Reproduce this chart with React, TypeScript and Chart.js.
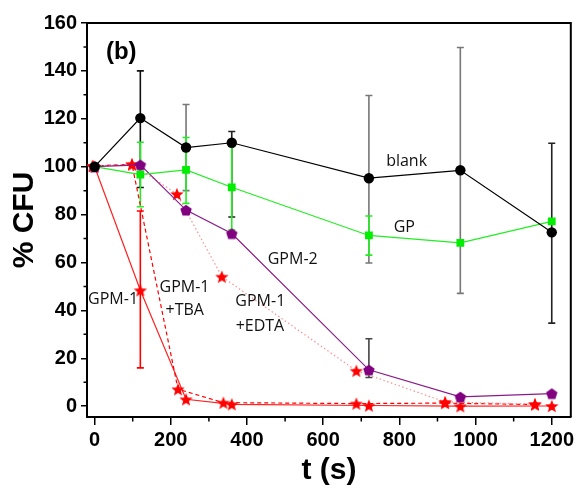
import React, { useEffect, useRef } from 'react';
import { Chart, registerables } from 'chart.js';

Chart.register(...registerables);

// ---- data ----
const tBlank = [0, 120, 240, 360, 720, 960, 1200];
const blankVals = [100, 120.3, 108, 110, 95.2, 98.5, 72.6];
const blankHi = [null, 140, 126, 114.7, 129.7, 149.8, 109.8];
const blankLo = [null, 91.3, 90, 79, 59.8, 47.1, 34.7];
const blankErrColor = ['#111', '#111', '#777', '#222', '#777', '#777', '#222'];

const tGP = [0, 120, 240, 360, 720, 960, 1200];
const gpVals = [100, 96.7, 98.7, 91.4, 71.3, 68.2, 77.2];
const gpHi = [null, 110.2, 112.2, 108.5, 79.4, null, null];
const gpLo = [null, 83.3, 84.7, 73.6, 63.1, null, null];

const tGPM2 = [0, 120, 240, 360, 720, 960, 1200];
const gpm2Vals = [100, 100.8, 81.9, 72.1, 15.2, 3.9, 5.3];
const gpm2Hi = [null, null, null, null, 28.2, null, null];
const gpm2Lo = [null, null, null, null, 12, null, null];

const tGPM1 = [0, 120, 240, 360, 720, 960, 1200];
const gpm1Vals = [100, 48.4, 2.9, 0.8, 0.3, 0, 0.1];
const gpm1Hi = [null, 81.5, null, null, null, null, null];
const gpm1Lo = [null, 16, null, null, null, null, null];

const tTBA = [-5, 98, 219, 338, 687, 920, 1156];
const tbaVals = [100.3, 101, 7.1, 1.5, 1.1, 1.3, 0.7];

const tEDTA = [-5, 98, 216, 334, 687, 920, 1156];
const edtaVals = [100.3, 101, 88.6, 54.1, 14.8, 1.8, 0.9];

const xTicks = [0, 200, 400, 600, 800, 1000, 1200];
const yTicks = [0, 20, 40, 60, 80, 100, 120, 140, 160];
const xMinor = [100, 300, 500, 700, 900, 1100];
const yMinor = [10, 30, 50, 70, 90, 110, 130, 150];

// text labels: [text, x, y(baseline)] in data units
const seriesLabels: [string, number, number][] = [
  ['blank', 819, 100.3],
  ['GP', 813, 72.7],
  ['GPM-2', 520, 59.4],
  ['GPM-1', 48.4, 42.6],
  ['GPM-1', 236, 47.8],
  ['+TBA', 236.5, 38.0],
  ['GPM-1', 435, 41.8],
  ['+EDTA', 434, 31.4],
];
const panelLabel = '(b)';

const pts = (xs: number[], ys: number[]) => xs.map((x, i) => ({ x, y: ys[i] }));

function makeStar(color: string, outer: number, inner: number) {
  const s = Math.ceil(outer * 2 + 2);
  const c = document.createElement('canvas');
  c.width = s; c.height = s;
  const ctx = c.getContext('2d')!;
  ctx.beginPath();
  for (let i = 0; i < 10; i++) {
    const r = i % 2 ? inner : outer;
    const a = -Math.PI / 2 + (i * Math.PI) / 5;
    ctx.lineTo(s / 2 + r * Math.cos(a), s / 2 + 0.7 + r * Math.sin(a));
  }
  ctx.closePath();
  ctx.fillStyle = color;
  ctx.fill();
  return c;
}

function makePentagon(color: string, r: number) {
  const s = Math.ceil(r * 2 + 2);
  const c = document.createElement('canvas');
  c.width = s; c.height = s;
  const ctx = c.getContext('2d')!;
  ctx.beginPath();
  for (let i = 0; i < 5; i++) {
    const a = -Math.PI / 2 + (i * 2 * Math.PI) / 5;
    ctx.lineTo(s / 2 + r * Math.cos(a), s / 2 + 0.7 + r * Math.sin(a));
  }
  ctx.closePath();
  ctx.fillStyle = color;
  ctx.fill();
  return c;
}

const errorBarPlugin = {
  id: 'errorBars',
  beforeDatasetsDraw(chart: any) {
    const ctx = chart.ctx;
    const xs = chart.scales.x, ys = chart.scales.y;
    chart.data.datasets.forEach((ds: any) => {
      if (!ds.errHi) return;
      ds.data.forEach((p: any, i: number) => {
        const hi = ds.errHi[i], lo = ds.errLo[i];
        if (hi == null || lo == null) return;
        const x = xs.getPixelForValue(p.x);
        const yh = ys.getPixelForValue(hi), yl = ys.getPixelForValue(lo);
        ctx.save();
        ctx.strokeStyle = Array.isArray(ds.errColor) ? ds.errColor[i] : ds.errColor;
        ctx.lineWidth = 1.6;
        ctx.beginPath();
        ctx.moveTo(x, yh); ctx.lineTo(x, yl);
        ctx.moveTo(x - 3.5, yh); ctx.lineTo(x + 3.5, yh);
        ctx.moveTo(x - 3.5, yl); ctx.lineTo(x + 3.5, yl);
        ctx.stroke();
        ctx.restore();
      });
    });
  },
};

const decorPlugin = {
  id: 'decor',
  afterDatasetsDraw(chart: any) {
    const ctx = chart.ctx;
    const xs = chart.scales.x, ys = chart.scales.y;
    const a = chart.chartArea;
    ctx.save();
    // frame top/right
    ctx.strokeStyle = '#000';
    ctx.lineWidth = 2;
    ctx.beginPath();
    ctx.moveTo(a.left, a.top); ctx.lineTo(a.right, a.top); ctx.lineTo(a.right, a.bottom);
    ctx.stroke();
    // minor ticks
    ctx.lineWidth = 1.5;
    ctx.beginPath();
    yMinor.forEach((v) => {
      const y = ys.getPixelForValue(v);
      ctx.moveTo(a.left, y); ctx.lineTo(a.left - 3.5, y);
    });
    xMinor.forEach((v) => {
      const x = xs.getPixelForValue(v);
      ctx.moveTo(x, a.bottom); ctx.lineTo(x, a.bottom + 4.5);
    });
    ctx.stroke();
    // series labels
    ctx.fillStyle = '#111';
    ctx.font = '16px "Open Sans", "Noto Sans", sans-serif';
    ctx.textAlign = 'center';
    ctx.textBaseline = 'alphabetic';
    seriesLabels.forEach(([t, x, y]) => {
      ctx.fillText(t, xs.getPixelForValue(x), ys.getPixelForValue(y));
    });
    ctx.font = 'bold 24px "Liberation Sans", Arial, sans-serif';
    ctx.fillStyle = '#000';
    ctx.fillText(panelLabel, xs.getPixelForValue(70), ys.getPixelForValue(145));
    ctx.restore();
  },
};

export default function App() {
  const ref = useRef<HTMLCanvasElement>(null);
  useEffect(() => {
    if (!ref.current) return;
    const redStar = makeStar('#ff0000', 7, 3);
    const pent = makePentagon('#800080', 6);
    const tickFont = { family: '"Liberation Sans", Arial, sans-serif', size: 20, weight: 'bold' as const };
    const titleFont = { family: '"Liberation Sans", Arial, sans-serif', size: 30, weight: 'bold' as const };
    const chart = new Chart(ref.current, {
      type: 'line',
      data: {
        datasets: [
          {
            label: 'blank', data: pts(tBlank, blankVals),
            borderColor: '#000', borderWidth: 1.2, backgroundColor: '#000',
            pointStyle: 'circle', pointRadius: 5.2, pointBackgroundColor: '#000', pointBorderWidth: 0,
            errHi: blankHi, errLo: blankLo, errColor: blankErrColor,
          } as any,
          {
            label: 'GP', data: pts(tGP, gpVals),
            borderColor: '#22ee22', borderWidth: 1.2,
            pointStyle: 'rect', pointRadius: 5.5, pointBackgroundColor: '#00ee00', pointBorderWidth: 0,
            errHi: gpHi, errLo: gpLo, errColor: '#22ee22',
          } as any,
          {
            label: 'GPM-2', data: pts(tGPM2, gpm2Vals),
            borderColor: '#8a1a8a', borderWidth: 1.2,
            pointStyle: pent, pointRadius: 6,
            errHi: gpm2Hi, errLo: gpm2Lo, errColor: '#444',
          } as any,
          {
            label: 'GPM-1+EDTA', data: pts(tEDTA, edtaVals),
            borderColor: '#ff9090', borderWidth: 1.2, borderDash: [1.5, 2.5],
            pointStyle: redStar, pointRadius: 7,
          } as any,
          {
            label: 'GPM-1+TBA', data: pts(tTBA, tbaVals),
            borderColor: '#ff0000', borderWidth: 1.2, borderDash: [4, 3],
            pointStyle: redStar, pointRadius: 7,
          } as any,
          {
            label: 'GPM-1', data: pts(tGPM1, gpm1Vals),
            borderColor: '#ff2020', borderWidth: 1.2,
            pointStyle: redStar, pointRadius: 7,
            errHi: gpm1Hi, errLo: gpm1Lo, errColor: '#ff0000',
          } as any,
        ],
      },
      options: {
        responsive: false,
        animation: false,
        devicePixelRatio: 1,
        layout: { padding: { top: 23, right: 6, left: 0, bottom: 0 } },
        plugins: { legend: { display: false }, tooltip: { enabled: false } },
        elements: { line: { tension: 0 } },
        scales: {
          x: {
            type: 'linear', min: -20, max: 1250,
            afterBuildTicks: (s: any) => { s.ticks = xTicks.map((v) => ({ value: v })); },
            afterFit: (s: any) => { s.height = 72; },
            grid: { drawOnChartArea: false, drawTicks: true, tickLength: 8, color: '#000', lineWidth: 1.5 },
            border: { display: true, color: '#000', width: 2 },
            ticks: { color: '#000', font: tickFont, padding: 3, maxRotation: 0, callback: (v: any) => String(v) },
            title: { display: true, text: 't (s)', color: '#000', font: titleFont, padding: { top: 0, bottom: 0 } },
          },
          y: {
            type: 'linear', min: -4.5, max: 160,
            afterBuildTicks: (s: any) => { s.ticks = yTicks.map((v) => ({ value: v })); },
            afterFit: (s: any) => { s.width = 87; },
            grid: { drawOnChartArea: false, drawTicks: true, tickLength: 6, color: '#000', lineWidth: 1.5 },
            border: { display: true, color: '#000', width: 2 },
            ticks: { color: '#000', font: tickFont, padding: 4, callback: (v: any) => String(v) },
            title: { display: true, text: '% CFU', color: '#000', font: titleFont, padding: { top: 7, bottom: 0 } },
          },
        },
      } as any,
      plugins: [errorBarPlugin, decorPlugin],
    });
    return () => chart.destroy();
  }, []);
  return (
    <div style={{ position: 'absolute', left: 0, top: 0, width: 579, height: 489, background: '#fff' }}>
      <canvas ref={ref} width={579} height={489} style={{ width: 579, height: 489 }} />
    </div>
  );
}
